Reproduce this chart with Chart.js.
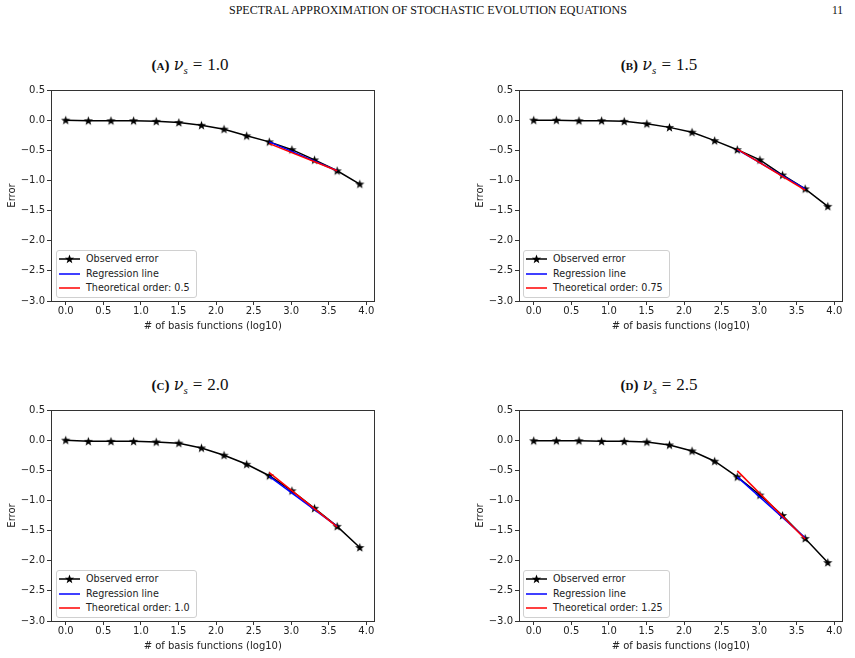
<!DOCTYPE html>
<html>
<head>
<meta charset="utf-8">
<script src="https://cdn.jsdelivr.net/npm/chart.js@4.4.1/dist/chart.umd.min.js"></script>
<style>
  body { margin: 0; background: #fff; width: 855px; height: 658px; position: relative; overflow: hidden; }
  canvas { position: absolute; }
  .hdr { position: absolute; top: 4px; font-family: "Liberation Serif", serif; font-size: 11.5px; color: #111; white-space: nowrap; }
  .ttl { position: absolute; width: 380px; text-align: center; font-family: "Liberation Serif", serif; font-size: 17px; color: #111; white-space: nowrap; }
  .ttl .sc { font-variant: small-caps; font-size: 15px; font-weight: 600; }
  .ttl .nu { font-family: "DejaVu Serif", serif; font-style: italic; font-size: 16px; }
  .ttl sub { font-size: 11px; font-style: italic; }
  .ttl .eq { margin: 0 5px; }
  .leg { position: absolute; border: 1px solid #d0d0d0; border-radius: 3px; background: #fff; padding: 1px 6px 1px 2px;
         font-family: "DejaVu Sans", sans-serif; font-size: 9.6px; color: #222; }
  .leg div { height: 14.5px; line-height: 14.5px; white-space: nowrap; }
  .leg svg { vertical-align: middle; margin-right: 6px; }
</style>
</head>
<body>
<div class="hdr" id="hdr" style="left:229px">SPECTRAL APPROXIMATION OF STOCHASTIC EVOLUTION EQUATIONS</div>
<div class="hdr" style="left:832px">11</div>

<div class="ttl" style="left:0px;top:55px"><span class="sc">(a)</span> <span class="nu">ν</span><sub>s</sub><span class="eq">=</span>1.0</div>
<div class="ttl" style="left:469px;top:55px"><span class="sc">(b)</span> <span class="nu">ν</span><sub>s</sub><span class="eq">=</span>1.5</div>
<div class="ttl" style="left:0px;top:375px"><span class="sc">(c)</span> <span class="nu">ν</span><sub>s</sub><span class="eq">=</span>2.0</div>
<div class="ttl" style="left:469px;top:375px"><span class="sc">(d)</span> <span class="nu">ν</span><sub>s</sub><span class="eq">=</span>2.5</div>

<canvas id="cA" width="380" height="260" style="left:0px;top:80px"></canvas>
<canvas id="cB" width="380" height="260" style="left:468px;top:80px"></canvas>
<canvas id="cC" width="380" height="260" style="left:0px;top:400px"></canvas>
<canvas id="cD" width="380" height="260" style="left:468px;top:400px"></canvas>

<div id="legends"></div>

<script>
// log10 of number of basis functions
const xVals = [0.0, 0.301, 0.602, 0.903, 1.204, 1.505, 1.806, 2.107, 2.408, 2.709, 3.010, 3.311, 3.612, 3.913];
const fitX = [2.709, 3.612];

const obsA = [0.0, -0.01, -0.01, -0.01, -0.02, -0.04, -0.085, -0.15, -0.26, -0.36, -0.49, -0.66, -0.84, -1.06];
const obsB = [0.0, 0.0, -0.01, -0.01, -0.02, -0.06, -0.12, -0.20, -0.34, -0.49, -0.66, -0.91, -1.14, -1.43];
const obsC = [0.0, -0.02, -0.02, -0.02, -0.03, -0.05, -0.13, -0.25, -0.40, -0.59, -0.84, -1.13, -1.43, -1.78];
const obsD = [-0.01, -0.01, -0.01, -0.02, -0.02, -0.03, -0.08, -0.18, -0.35, -0.61, -0.91, -1.25, -1.63, -2.03];

const regA = [-0.36, -0.84], theoA = [-0.39, -0.84];
const regB = [-0.49, -1.14], theoB = [-0.48, -1.16];
const regC = [-0.60, -1.43], theoC = [-0.54, -1.44];
const regD = [-0.61, -1.62], theoD = [-0.51, -1.64];

const orders = ['0.5', '0.75', '1.0', '1.25'];

const xTicks = [0, 0.5, 1.0, 1.5, 2.0, 2.5, 3.0, 3.5, 4.0];
const yTicks = [0.5, 0.0, -0.5, -1.0, -1.5, -2.0, -2.5, -3.0];

// filled five point star, like matplotlib '*'
function starPath(ctx, cx, cy, R) {
    const r = R * 0.42;
    ctx.beginPath();
    for (let i = 0; i < 10; i++) {
        const rad = i % 2 ? r : R;
        const a = -Math.PI / 2 + i * Math.PI / 5;
        const px = cx + rad * Math.cos(a), py = cy + rad * Math.sin(a);
        i ? ctx.lineTo(px, py) : ctx.moveTo(px, py);
    }
    ctx.closePath();
}
const star = document.createElement('canvas');
star.width = 11; star.height = 11;
(function () {
    const c = star.getContext('2d');
    starPath(c, 5.5, 5.8, 4.8);
    c.fillStyle = '#000';
    c.fill();
})();

const frame = {
    id: 'frame',
    afterDatasetsDraw(chart) {
        const a = chart.chartArea, ctx = chart.ctx;
        ctx.save();
        ctx.strokeStyle = '#333';
        ctx.lineWidth = 1;
        ctx.strokeRect(Math.round(a.left) + 0.5, Math.round(a.top) + 0.5,
            Math.round(a.right - a.left) - 1, Math.round(a.bottom - a.top));
        ctx.restore();
    }
};

const pts = (xs, ys) => xs.map((x, i) => ({ x: x, y: ys[i] }));
const fmt = v => (v < 0 ? '\u2212' : '') + Math.abs(v).toFixed(1);

function makePanel(id, obs, reg, theo, rightPad) {
    const ctx = document.getElementById(id).getContext('2d');
    new Chart(ctx, {
        type: 'scatter',
        data: {
            datasets: [
                { label: 'Observed error', data: pts(xVals, obs), showLine: true, borderColor: '#000',
                  borderWidth: 1.5, pointStyle: star, pointRadius: 4, order: 3 },
                { label: 'Regression line', data: pts(fitX, reg), showLine: true, borderColor: '#0000ff',
                  borderWidth: 1.5, pointRadius: 0, order: 2 },
                { label: 'Theoretical order', data: pts(fitX, theo), showLine: true, borderColor: '#ff0000',
                  borderWidth: 1.5, pointRadius: 0, order: 1 }
            ]
        },
        options: {
            responsive: false,
            animation: false,
            devicePixelRatio: 1,
            layout: { padding: { top: 10, right: rightPad, left: 0, bottom: 0 } },
            plugins: { legend: { display: false }, tooltip: { enabled: false } },
            scales: {
                x: {
                    type: 'linear', min: -0.196, max: 4.109,
                    afterBuildTicks: s => { s.ticks = xTicks.map(v => ({ value: v })); },
                    afterFit: s => { s.height = 39; },
                    ticks: { callback: v => v.toFixed(1), color: '#222', font: { family: 'DejaVu Sans', size: 10 }, padding: 0, maxRotation: 0 },
                    grid: { display: true, drawOnChartArea: false, drawTicks: true, tickLength: 4, color: '#333' },
                    border: { display: false },
                    title: { display: true, text: '# of basis functions (log10)', color: '#222',
                             font: { family: 'DejaVu Sans', size: 10 }, padding: { top: 0, bottom: 8 } }
                },
                y: {
                    min: -3.0, max: 0.5,
                    afterBuildTicks: s => { s.ticks = yTicks.map(v => ({ value: v })); },
                    afterFit: s => { s.width = 51; },
                    ticks: { callback: fmt, color: '#222', font: { family: 'DejaVu Sans', size: 10 }, padding: 2 },
                    grid: { display: true, drawOnChartArea: false, drawTicks: true, tickLength: 4, color: '#333' },
                    border: { display: false },
                    title: { display: true, text: 'Error', color: '#222',
                             font: { family: 'DejaVu Sans', size: 10 }, padding: { top: 6, bottom: 0 } }
                }
            }
        },
        plugins: [frame]
    });
}

makePanel('cA', obsA, regA, theoA, 4);
makePanel('cB', obsB, regB, theoB, 5);
makePanel('cC', obsC, regC, theoC, 4);
makePanel('cD', obsD, regD, theoD, 5);

// legends inside the lower left corner of each axes
const lineSvg = (col, withStar) =>
    '<svg width="21" height="10"><line x1="0" y1="5" x2="21" y2="5" stroke="' + col + '" stroke-width="1.5"/>' +
    (withStar ? '<polygon fill="#000" points="' + (function () {
        const p = [];
        for (let i = 0; i < 10; i++) {
            const rad = i % 2 ? 2.0 : 4.8, a = -Math.PI / 2 + i * Math.PI / 5;
            p.push((10.5 + rad * Math.cos(a)).toFixed(2) + ',' + (5.3 + rad * Math.sin(a)).toFixed(2));
        }
        return p.join(' ');
    })() + '"/>' : '') + '</svg>';

const legPos = [[56, 250], [523, 250], [56, 570], [523, 570]];
const box = document.getElementById('legends');
legPos.forEach((p, i) => {
    const d = document.createElement('div');
    d.className = 'leg';
    d.style.left = p[0] + 'px';
    d.style.top = p[1] + 'px';
    d.innerHTML =
        '<div>' + lineSvg('#000', true) + 'Observed error</div>' +
        '<div>' + lineSvg('#0000ff', false) + 'Regression line</div>' +
        '<div>' + lineSvg('#ff0000', false) + 'Theoretical order: ' + orders[i] + '</div>';
    box.appendChild(d);
});

// stretch running header to the width it has in the page
const hdr = document.getElementById('hdr');
const w = hdr.getBoundingClientRect().width;
hdr.style.transformOrigin = '0 0';
hdr.style.transform = 'scaleX(' + (398 / w).toFixed(3) + ')';
</script>
</body>
</html>
